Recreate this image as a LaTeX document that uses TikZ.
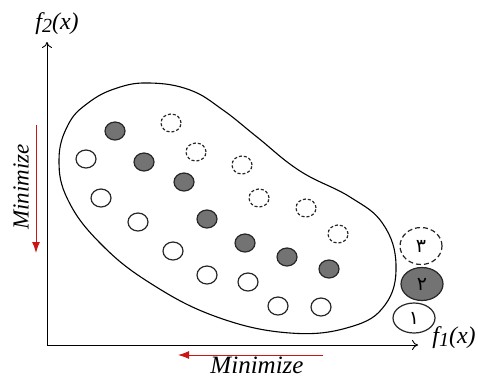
\documentclass[tikz,border=0pt]{standalone}
\usepackage{fontspec}
\setmainfont{Liberation Serif}
\newfontfamily\farsi[Script=Arabic]{DejaVu Sans}
\TeXXeTstate=1
\usetikzlibrary{shapes.geometric,arrows.meta}

\definecolor{minred}{RGB}{205,20,20}

\begin{document}
\begin{tikzpicture}[x=1pt,y=-1pt,
    sol/.style={ellipse,draw=black!85,line width=1.2pt,minimum width=20pt,minimum height=18pt,inner sep=0pt},
    rankone/.style={sol,fill=white},
    ranktwo/.style={sol,fill=black!55},
    rankthree/.style={sol,dash pattern=on 3pt off 2pt},
    big/.style={minimum width=42pt,font=\farsi\fontsize{19}{22}\selectfont},
    axis/.style={line width=.9pt,-{To[length=6pt,width=10pt]}},
    goal/.style={minred,line width=1pt,-{Latex[length=11pt,width=8pt]}},
    lbl/.style={font=\itshape\fontsize{24}{28}\selectfont,inner sep=0pt}]
    \useasboundingbox (0,0) rectangle (478,378);
    % axes
    \coordinate (O) at (47,345);
    \coordinate (ytip) at (47,42);
    \coordinate (xtip) at (418,345);
    \draw[axis] (O) -- (ytip);
    \draw[axis] (O) -- (xtip);
    \node[lbl] (fy) at (57,24) {f\raisebox{-3pt}{\fontsize{20}{24}\selectfont 2}(x)};
    \node[lbl] (fx) at (454,338) {f\raisebox{-3pt}{\fontsize{20}{24}\selectfont 1}(x)};
    % minimize directions
    \coordinate (ya) at (36,125);
    \coordinate (yb) at (36,253);
    \coordinate (xa) at (323,355);
    \coordinate (xb) at (178,355);
    \draw[goal] (ya) -- (yb);
    \draw[goal] (xa) -- (xb);
    \node[lbl,rotate=90,font=\itshape\fontsize{23}{27}\selectfont] (my) at (21,187) {Minimize};
    \node[lbl,font=\itshape\fontsize{25}{30}\selectfont] (mx) at (257,365) {Minimize};
    % feasible region
    \draw[line width=1.1pt] plot[smooth cycle,tension=.7] coordinates {
        (150,83) (190,90) (223,110) (257,137) (300,171) (350,197) (383,224)
        (396,265) (385,305) (350,327) (290,333) (217,317) (150,283)
        (100,243) (68,200) (59,160) (68,125) (88,103) (117,88)};
    % solutions
    \foreach \x/\y [count=\i] in {115/131,144/162,184/182,207/219,245/243,287/257,329/269}
        \node[ranktwo] (b\i) at (\x,\y) {};
    \foreach \x/\y [count=\i] in {171/123,196/152,242/165,259/198,306/208,338/234}
        \node[rankthree] (c\i) at (\x,\y) {};
    \foreach \x/\y [count=\i] in {86/159,101/198,138/222,173/251,207/275,248/282,278/306,321/307}
        \node[rankone] (a\i) at (\x,\y) {};
    % fronts
    \node[rankthree,big,minimum height=37pt,dash pattern=on 5pt off 3pt] (f3) at (421,246) {\beginR ۳\endR};
    \node[ranktwo,big,minimum height=33pt] (f2) at (422,284) {\beginR ۲\endR};
    \node[rankone,big,minimum height=30pt] (f1) at (414,318) {\beginR ۱\endR};
\end{tikzpicture}
\end{document}
